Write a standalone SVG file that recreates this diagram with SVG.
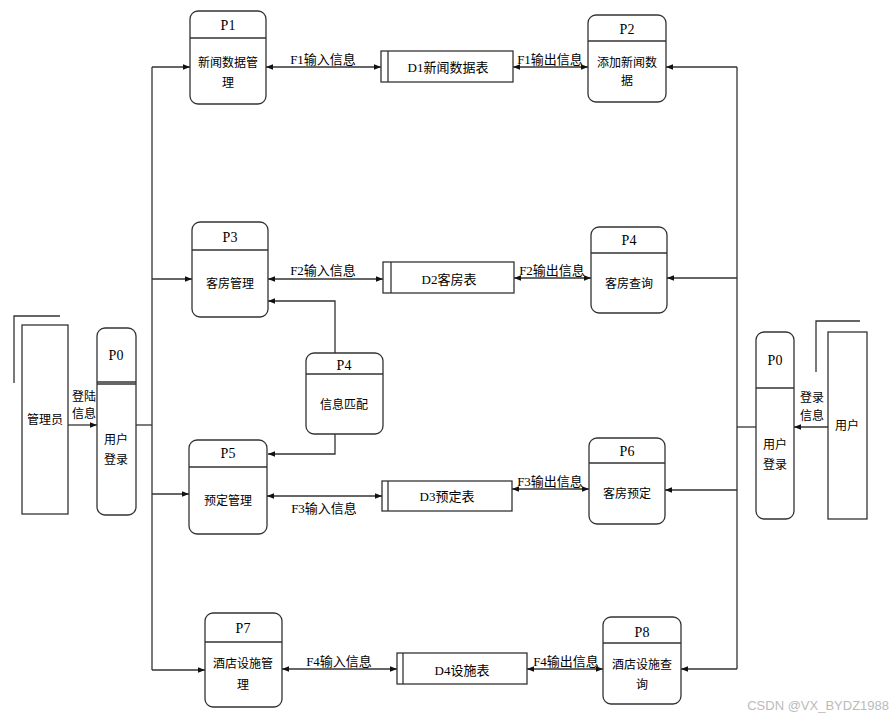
<svg xmlns="http://www.w3.org/2000/svg" width="893" height="722" viewBox="0 0 893 722">
<defs>
<marker id="ah" viewBox="0 0 10 10" refX="10" refY="5" markerWidth="7" markerHeight="7" markerUnits="userSpaceOnUse" orient="auto-start-reverse">
<path d="M0,1 L10,5 L0,9 z" fill="#111"/>
</marker>
<style>
.box{fill:#fff;stroke:#333;stroke-width:1.3}
.ln{fill:none;stroke:#333;stroke-width:1.3}
.ar{fill:none;stroke:#333;stroke-width:1.3;marker-end:url(#ah)}
.ar2{fill:none;stroke:#333;stroke-width:1.3;marker-end:url(#ah);marker-start:url(#ah)}
.t{font-family:"Liberation Serif","Noto Sans CJK SC",serif;font-size:13px;fill:#000;text-anchor:middle}
.p{font-family:"Liberation Serif",serif;font-size:14px;fill:#000;text-anchor:middle}
.c{font-family:"Noto Sans CJK SC","Noto Sans",sans-serif;font-size:12px;fill:#000;text-anchor:middle}
.wm{font-family:"Liberation Sans","Noto Sans",sans-serif;font-size:13px;fill:#bbb;text-anchor:end}
</style>
</defs>
<rect width="893" height="722" fill="#fff"/>

<g id="connectors">
<path class="ln" d="M152,67 V670"/>
<path class="ln" d="M136,425 H152"/>
<path class="ar" d="M152,67 H190"/>
<path class="ar" d="M152,279 H192"/>
<path class="ar" d="M152,494 H189"/>
<path class="ar" d="M152,670 H205"/>
<path class="ln" d="M737,67 V669"/>
<path class="ln" d="M756,427 H737"/>
<path class="ar" d="M737,67 H666"/>
<path class="ar" d="M737,278 H667"/>
<path class="ar" d="M737,490 H665"/>
<path class="ar" d="M737,669 H681"/>
<path class="ar" d="M68,425 H97"/>
<path class="ar" d="M828,427 H794"/>
<path class="ar2" d="M266,67 H381"/>
<path class="ar2" d="M513,67 H588"/>
<path class="ar2" d="M268,279 H383"/>
<path class="ar2" d="M514,278 H591"/>
<path class="ar2" d="M267,496 H382"/>
<path class="ar2" d="M512,489 H589"/>
<path class="ar2" d="M282,669 H397"/>
<path class="ar2" d="M527,669 H603"/>
<path class="ar" d="M335,353 V301 H268"/>
<path class="ar" d="M335,434 V454 H268"/>
</g>

<g id="labels">
<text class="t" x="323" y="64">F1输入信息</text>
<text class="t" x="550" y="64">F1输出信息</text>
<text class="t" x="323" y="275">F2输入信息</text>
<text class="t" x="552" y="275">F2输出信息</text>
<text class="t" x="324" y="513">F3输入信息</text>
<text class="t" x="550" y="486">F3输出信息</text>
<text class="t" x="339" y="666">F4输入信息</text>
<text class="t" x="566" y="666">F4输出信息</text>
<text class="c" x="84" y="401">登陆</text>
<text class="c" x="84" y="418">信息</text>
<text class="c" x="812" y="402">登录</text>
<text class="c" x="812" y="420">信息</text>
</g>

<g id="admin">
<path class="ln" d="M14,383 V316 H60"/>
<rect class="box" x="22" y="325" width="46" height="189"/>
<text class="c" x="45" y="424">管理员</text>
</g>

<g id="user">
<path class="ln" d="M816,372 V321 H860"/>
<rect class="box" x="828" y="332" width="39" height="187"/>
<text class="c" x="847" y="430">用户</text>
</g>

<g id="P0L">
<rect class="box" x="97" y="328" width="39" height="187" rx="8"/>
<path class="ln" d="M97,382 H136 M97,384 H136"/>
<text class="p" x="116" y="360">P0</text>
<text class="c" x="116" y="444">用户</text>
<text class="c" x="116" y="464">登录</text>
</g>

<g id="P0R">
<rect class="box" x="756" y="332" width="38" height="187" rx="8"/>
<path class="ln" d="M756,388 H794"/>
<text class="p" x="775" y="365">P0</text>
<text class="c" x="775" y="449">用户</text>
<text class="c" x="775" y="469">登录</text>
</g>

<g id="P1">
<rect class="box" x="190" y="11" width="76" height="93" rx="8"/>
<path class="ln" d="M190,38 H266"/>
<text class="p" x="228" y="30">P1</text>
<text class="c" x="228" y="67">新闻数据管</text>
<text class="c" x="228" y="87">理</text>
</g>

<g id="D1">
<rect class="box" x="381" y="51" width="132" height="31"/>
<path class="ln" d="M388,51 V82"/>
<text class="t" x="448" y="72">D1新闻数据表</text>
</g>

<g id="P2">
<rect class="box" x="588" y="15" width="78" height="87" rx="8"/>
<path class="ln" d="M588,41 H666"/>
<text class="p" x="627" y="34">P2</text>
<text class="c" x="627" y="67">添加新闻数</text>
<text class="c" x="627" y="85">据</text>
</g>

<g id="P3">
<rect class="box" x="192" y="222" width="76" height="95" rx="8"/>
<path class="ln" d="M192,250 H268"/>
<text class="p" x="230" y="242">P3</text>
<text class="c" x="230" y="288">客房管理</text>
</g>

<g id="D2">
<rect class="box" x="383" y="262" width="131" height="31"/>
<path class="ln" d="M391,262 V293"/>
<text class="t" x="449" y="284">D2客房表</text>
</g>

<g id="P4R">
<rect class="box" x="591" y="227" width="76" height="86" rx="8"/>
<path class="ln" d="M591,253 H667"/>
<text class="p" x="629" y="245">P4</text>
<text class="c" x="629" y="288">客房查询</text>
</g>

<g id="P4M">
<rect class="box" x="306" y="353" width="77" height="81" rx="8"/>
<path class="ln" d="M306,374 H383"/>
<text class="p" x="344" y="370">P4</text>
<text class="c" x="344" y="409">信息匹配</text>
</g>

<g id="P5">
<rect class="box" x="189" y="440" width="78" height="94" rx="8"/>
<path class="ln" d="M189,467 H267"/>
<text class="p" x="228" y="458">P5</text>
<text class="c" x="228" y="505">预定管理</text>
</g>

<g id="D3">
<rect class="box" x="382" y="481" width="130" height="30"/>
<path class="ln" d="M388,481 V511"/>
<text class="t" x="447" y="501">D3预定表</text>
</g>

<g id="P6">
<rect class="box" x="589" y="438" width="76" height="86" rx="8"/>
<path class="ln" d="M589,463 H665"/>
<text class="p" x="627" y="456">P6</text>
<text class="c" x="627" y="498">客房预定</text>
</g>

<g id="P7">
<rect class="box" x="205" y="613" width="77" height="94" rx="8"/>
<path class="ln" d="M205,642 H282"/>
<text class="p" x="243" y="633">P7</text>
<text class="c" x="243" y="668">酒店设施管</text>
<text class="c" x="243" y="689">理</text>
</g>

<g id="D4">
<rect class="box" x="397" y="653" width="130" height="31"/>
<path class="ln" d="M403,653 V684"/>
<text class="t" x="462" y="675">D4设施表</text>
</g>

<g id="P8">
<rect class="box" x="603" y="617" width="78" height="87" rx="8"/>
<path class="ln" d="M603,643 H681"/>
<text class="p" x="642" y="637">P8</text>
<text class="c" x="642" y="669">酒店设施查</text>
<text class="c" x="642" y="689">询</text>
</g>

<text class="wm" x="889" y="710">CSDN @VX_BYDZ1988</text>
</svg>
